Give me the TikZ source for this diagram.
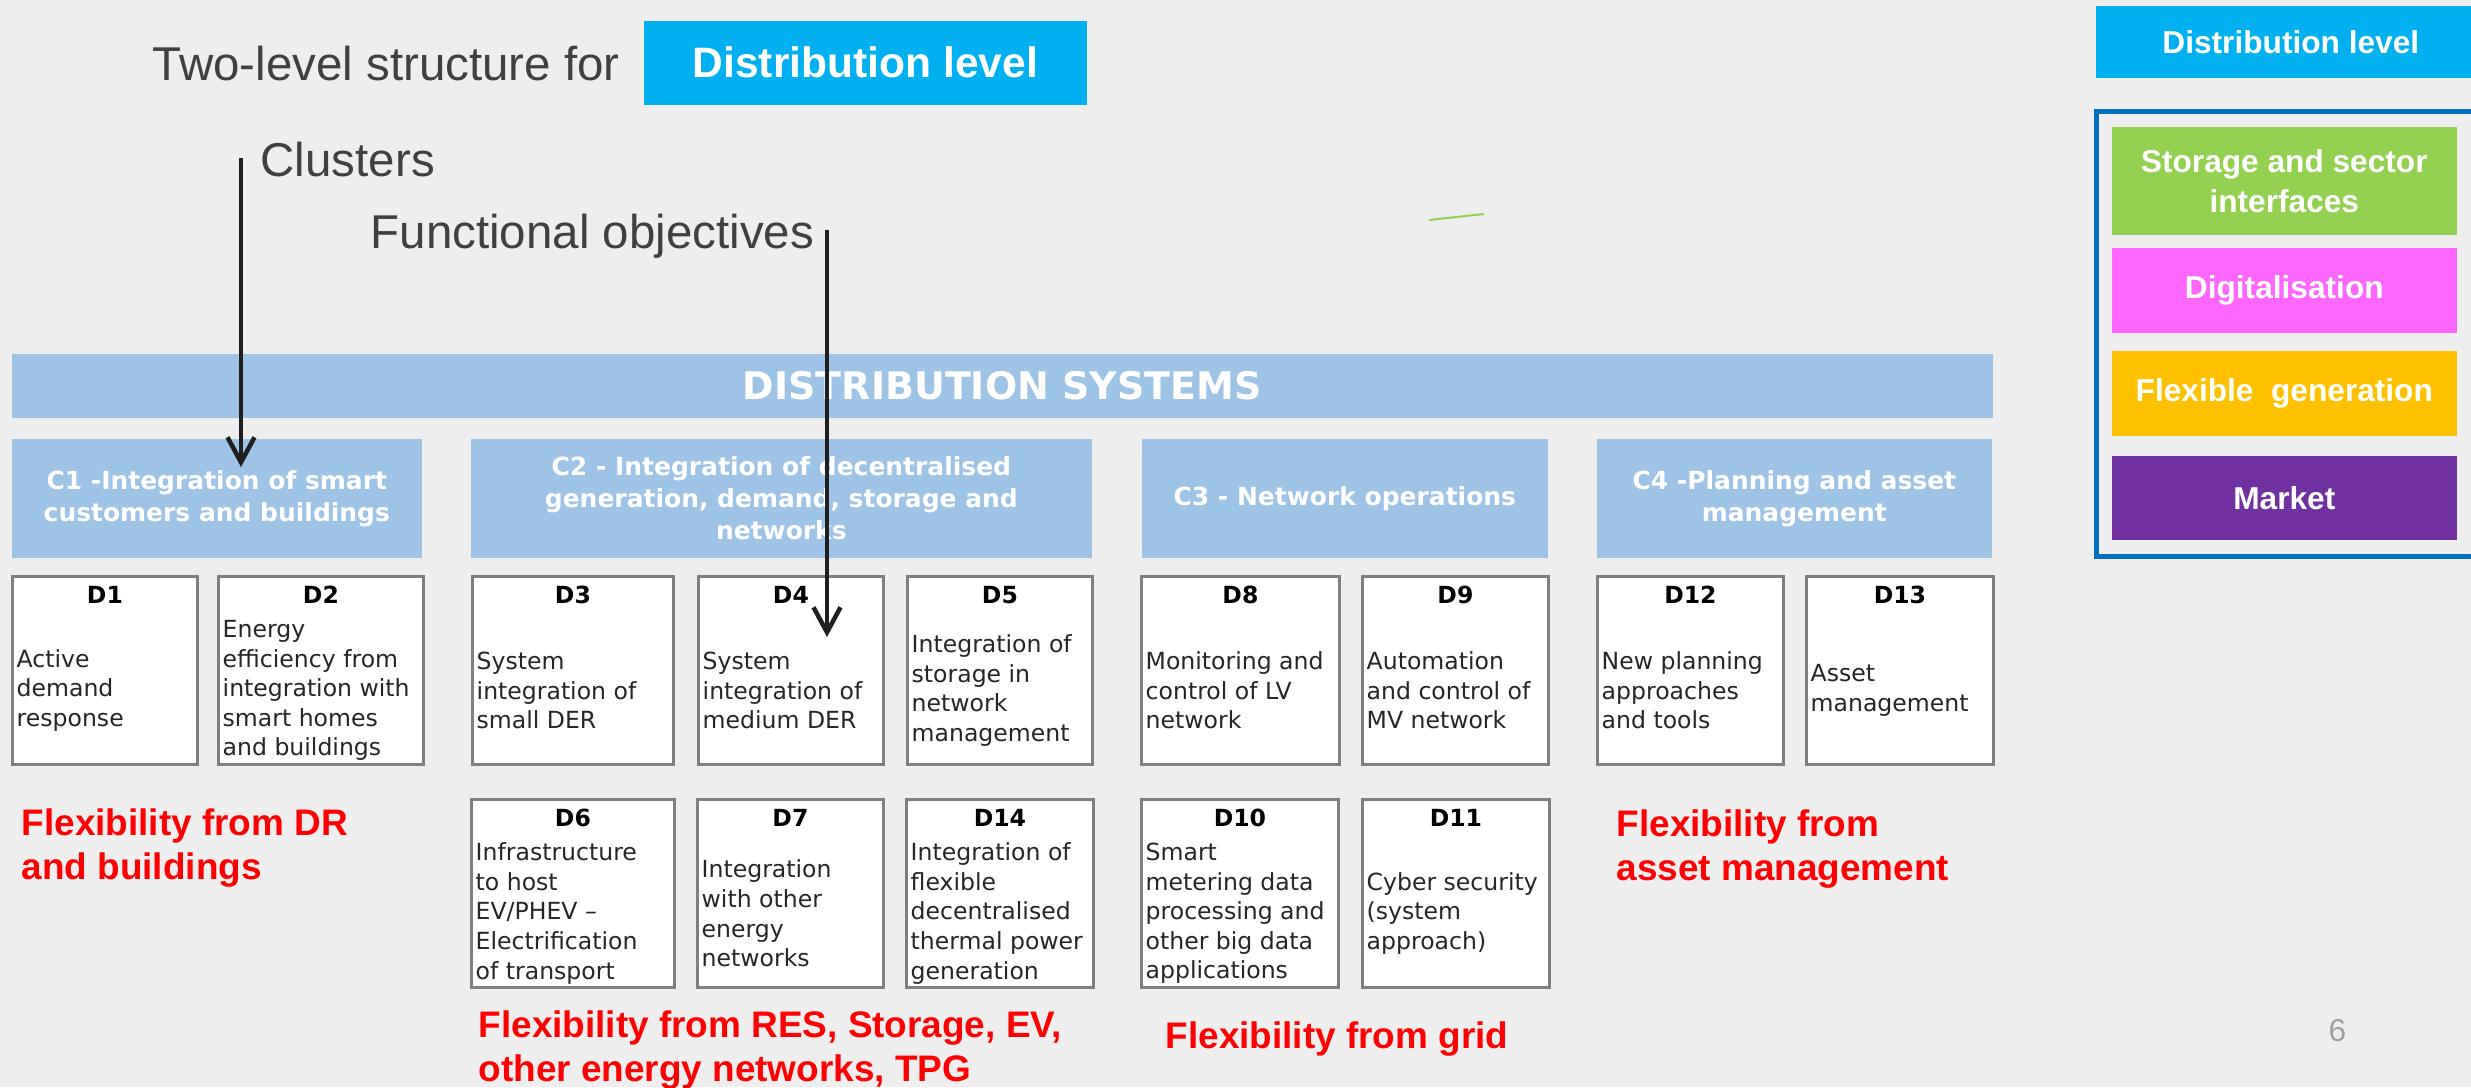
\documentclass[tikz,border=0pt]{standalone}
\usepackage{fontspec}
\setmainfont{Liberation Sans}
\newfontfamily\verd{DejaVu Sans}
\usetikzlibrary{arrows.meta}
\definecolor{bggray}{HTML}{EEEEEE}
\definecolor{headgray}{HTML}{404040}
\definecolor{levblue}{HTML}{00B0F0}
\definecolor{cblue}{HTML}{9DC3E6}
\definecolor{boxgray}{HTML}{7F7F7F}
\definecolor{txtgray}{HTML}{262626}
\definecolor{frameblue}{HTML}{0070C0}
\definecolor{leggreen}{HTML}{92D050}
\definecolor{legpink}{HTML}{FF66FF}
\definecolor{legorange}{HTML}{FFC000}
\definecolor{legpurple}{HTML}{7030A0}
\definecolor{flexred}{HTML}{FF0000}
\definecolor{pagegray}{HTML}{A0A0A0}
\tikzset{
  head/.style={text=headgray, inner sep=0pt, anchor=base west, font=\fontsize{13.5}{16}\selectfont},
  level/.style={fill=levblue, text=white, inner sep=0pt, anchor=north west, font=\bfseries\fontsize{12.1}{14}\selectfont},
  sysbar/.style={fill=cblue, text=white, inner sep=0pt, anchor=north west, font=\verd\bfseries\fontsize{10.8}{13}\selectfont},
  cbox/.style={fill=cblue, text=white, inner sep=0pt, anchor=north west, minimum height=1.19cm, align=center, font=\verd\bfseries\fontsize{7.1}{9.1}\selectfont},
  dbox/.style={draw=boxgray, line width=0.028cm, fill=white, inner sep=0pt, anchor=north west, minimum height=1.88cm},
  dlab/.style={text=black, inner sep=0pt, anchor=base, font=\verd\bfseries\fontsize{6.7}{8}\selectfont},
  dtxt/.style={text=txtgray, inner sep=0pt, anchor=west, align=left, font=\verd\fontsize{6.7}{8.4}\selectfont},
  flex/.style={text=flexred, inner sep=0pt, anchor=north west, align=left, font=\bfseries\fontsize{10.5}{12.5}\selectfont},
  legbox/.style={text=white, inner sep=0pt, anchor=north west, minimum width=3.45cm, align=center, font=\bfseries\fontsize{9}{11.4}\selectfont},
  arr/.style={line width=0.045cm, draw=black!88, -{Straight Barb[length=0.25cm,width=0.27cm]}}
}
\def\fobjective(#1)(#2,#3)(#4)#5#6{%
  \node[dbox, minimum width=#4cm] (#1) at (#2,#3) {};
  \node[dlab] (#1lab) at ([yshift=-0.28cm]#1.north) {#5};
  \node[dtxt] (#1txt) at ([xshift=0.05cm,yshift=-0.2cm]#1.west) {#6};
}

\begin{document}
\begin{tikzpicture}[x=0.01cm,y=-0.01cm]
	%%%%% START %%%%%
	\useasboundingbox (0,0) rectangle (2471,1087);
	\clip (0,0) rectangle (2471,1087);
	\fill[bggray] (0,0) rectangle (2471,1087);
	
	\node[head] (title) at (152,80) {Two-level structure for};
	\node[level, minimum width=4.43cm, minimum height=0.84cm] (lev) at (643,20) {Distribution level};
	\node[head] (clusters) at (260,176) {Clusters};
	\node[head] (funcobj) at (370,248) {Functional objectives};
	\draw[line width=0.02cm, color=leggreen] (1429,220) -- (1484,214);
	
	\node[sysbar, minimum width=19.80cm, minimum height=0.64cm] (sys) at (11,353) {DISTRIBUTION SYSTEMS};
	
	\node[cbox, minimum width=4.10cm] (c1) at (11,438) {C1 -Integration of smart\\customers and buildings};
	\node[cbox, minimum width=6.21cm] (c2) at (470,438) {C2 - Integration of decentralised\\generation, demand, storage and\\networks};
	\node[cbox, minimum width=4.06cm] (c3) at (1141,438) {C3 - Network operations};
	\node[cbox, minimum width=3.95cm] (c4) at (1596,438) {C4 -Planning and asset\\management};
	
	\fobjective(d1)(11,575)(1.85){D1}{Active\\demand\\response}
	\fobjective(d2)(217,575)(2.05){D2}{Energy\\efficiency from\\integration with\\smart homes\\and buildings}
	\fobjective(d3)(471,575)(2.01){D3}{System\\integration of\\small DER}
	\fobjective(d4)(697,575)(1.85){D4}{System\\integration of\\medium DER}
	\fobjective(d5)(906,575)(1.85){D5}{Integration of\\storage in\\network\\management}
	\fobjective(d8)(1140,575)(1.98){D8}{Monitoring and\\control of LV\\network}
	\fobjective(d9)(1361,575)(1.86){D9}{Automation\\and control of\\MV network}
	\fobjective(d12)(1596,575)(1.86){D12}{New planning\\approaches\\and tools}
	\fobjective(d13)(1805,575)(1.87){D13}{Asset\\management}
	
	\fobjective(d6)(470,798)(2.03){D6}{Infrastructure\\to host\\EV/PHEV –\\Electrification\\of transport}
	\fobjective(d7)(696,798)(1.86){D7}{Integration\\with other\\energy\\networks}
	\fobjective(d14)(905,798)(1.87){D14}{Integration of\\flexible\\decentralised\\thermal power\\generation}
	\fobjective(d10)(1140,798)(1.97){D10}{Smart\\metering data\\processing and\\other big data\\applications}
	\fobjective(d11)(1361,798)(1.87){D11}{Cyber security\\(system\\approach)}
	
	\node[flex] (flexdr) at (21,808) {Flexibility from DR\\and buildings};
	\node[flex] (flexres) at (478,1010) {Flexibility from RES, Storage, EV,\\other energy networks, TPG};
	\node[flex] (flexgrid) at (1165,1021) {Flexibility from grid};
	\node[flex] (flexasset) at (1616,809) {Flexibility from\\asset management};
	\node[text=pagegray, inner sep=0pt, anchor=base west, font=\fontsize{9}{11}\selectfont] (pagenum) at (2328,1041) {6};
	
	% legend
	\node[level, minimum width=3.90cm, minimum height=0.72cm, font=\bfseries\fontsize{9}{11}\selectfont] (leglev) at (2095,5) {Distribution level};
	\draw[line width=0.05cm, color=frameblue] (2096,111) rectangle (2480,556);
	\node[legbox, fill=leggreen, minimum height=1.08cm] (storage) at (2111,126) {Storage and sector\\interfaces};
	\node[legbox, fill=legpink, minimum height=0.85cm] (digital) at (2111,247) {Digitalisation};
	\node[legbox, fill=legorange, minimum height=0.85cm] (flexgen) at (2111,350) {Flexible\ \ generation};
	\node[legbox, fill=legpurple, minimum height=0.84cm] (market) at (2111,455) {Market};
	
	\coordinate (clustop) at (241,158);
	\coordinate (clusend) at (241,467);
	\coordinate (functop) at (827,230);
	\coordinate (funcend) at (827,637);
	\draw[arr] (clustop) -- (clusend);
	\draw[arr] (functop) -- (funcend);
	%%%%% END %%%%%
\end{tikzpicture}
\end{document}
